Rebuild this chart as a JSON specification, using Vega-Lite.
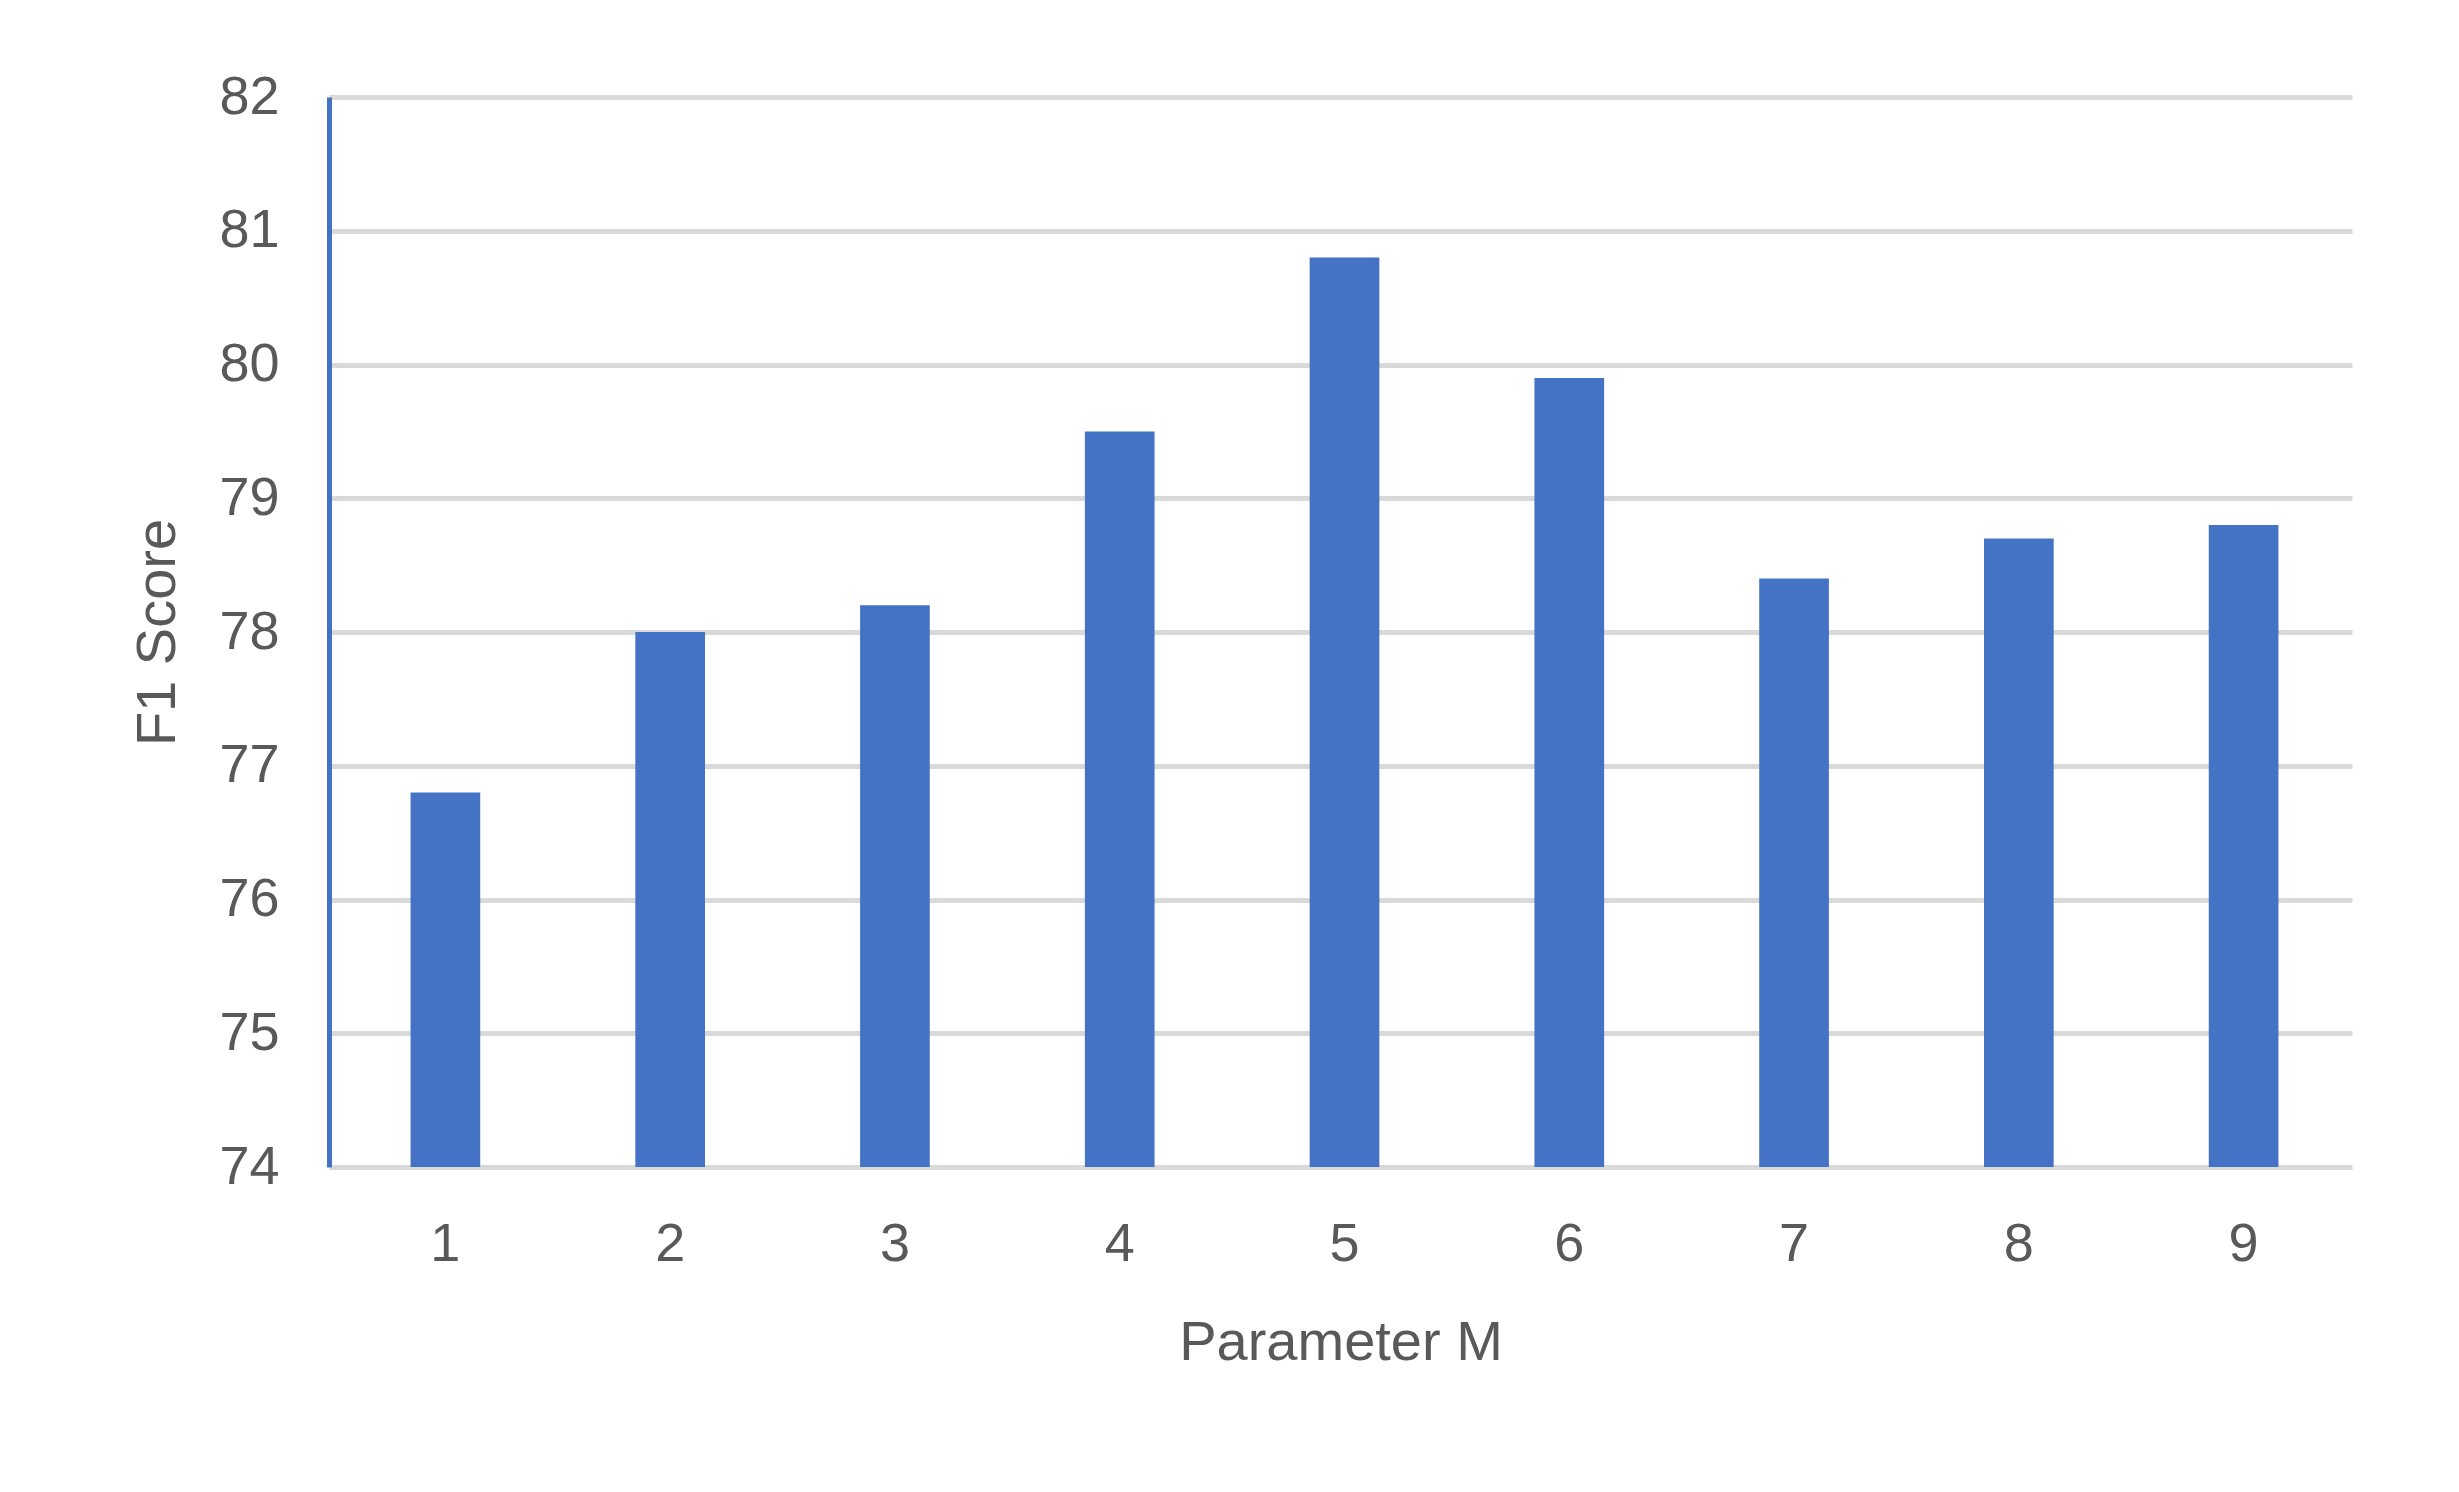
{
  "$schema": "https://vega.github.io/schema/vega-lite/v6.json",
  "autosize": {"type": "none"},
  "padding": {"left": 329, "top": 97, "right": 107, "bottom": 325},
  "width": 2023,
  "height": 1070,
  "background": "white",
  "config": {
    "view": {"stroke": null},
    "font": "Liberation Sans",
    "axis": {"labelColor": "#595959", "titleColor": "#595959", "labelFont": "Liberation Sans", "titleFont": "Liberation Sans", "titleFontWeight": "normal"}
  },
  "data": {
    "values": [
      {"M": "1", "F1": 76.8},
      {"M": "2", "F1": 78.0},
      {"M": "3", "F1": 78.2},
      {"M": "4", "F1": 79.5},
      {"M": "5", "F1": 80.8},
      {"M": "6", "F1": 79.9},
      {"M": "7", "F1": 78.4},
      {"M": "8", "F1": 78.7},
      {"M": "9", "F1": 78.8}
    ]
  },
  "mark": {"type": "bar", "color": "#4472C4", "width": {"band": 0.31}, "xOffset": 4},
  "encoding": {
    "x": {
      "field": "M",
      "type": "ordinal",
      "scale": {"paddingInner": 0, "paddingOuter": 0},
      "axis": {
        "title": "Parameter M",
        "labelAngle": 0,
        "labelFontSize": 54,
        "labelPadding": 50,
        "labelOffset": 4,
        "ticks": false,
        "domain": false,
        "titleFontSize": 56,
        "titleBaseline": "middle",
        "titleY": 175
      }
    },
    "y": {
      "field": "F1",
      "type": "quantitative",
      "scale": {"domain": [74, 82], "zero": false, "nice": false},
      "axis": {
        "title": "F1 Score",
        "values": [74, 75, 76, 77, 78, 79, 80, 81, 82],
        "labelFontSize": 54,
        "labelPadding": 50,
        "ticks": false,
        "domain": true,
        "domainColor": "#4472C4",
        "domainWidth": 5,
        "grid": true,
        "gridColor": "#D9D9D9",
        "gridWidth": 5,
        "titleFontSize": 56,
        "titleBaseline": "middle",
        "titleX": -172,
        "titleAngle": -90
      }
    },
    "y2": {"datum": 74}
  }
}
